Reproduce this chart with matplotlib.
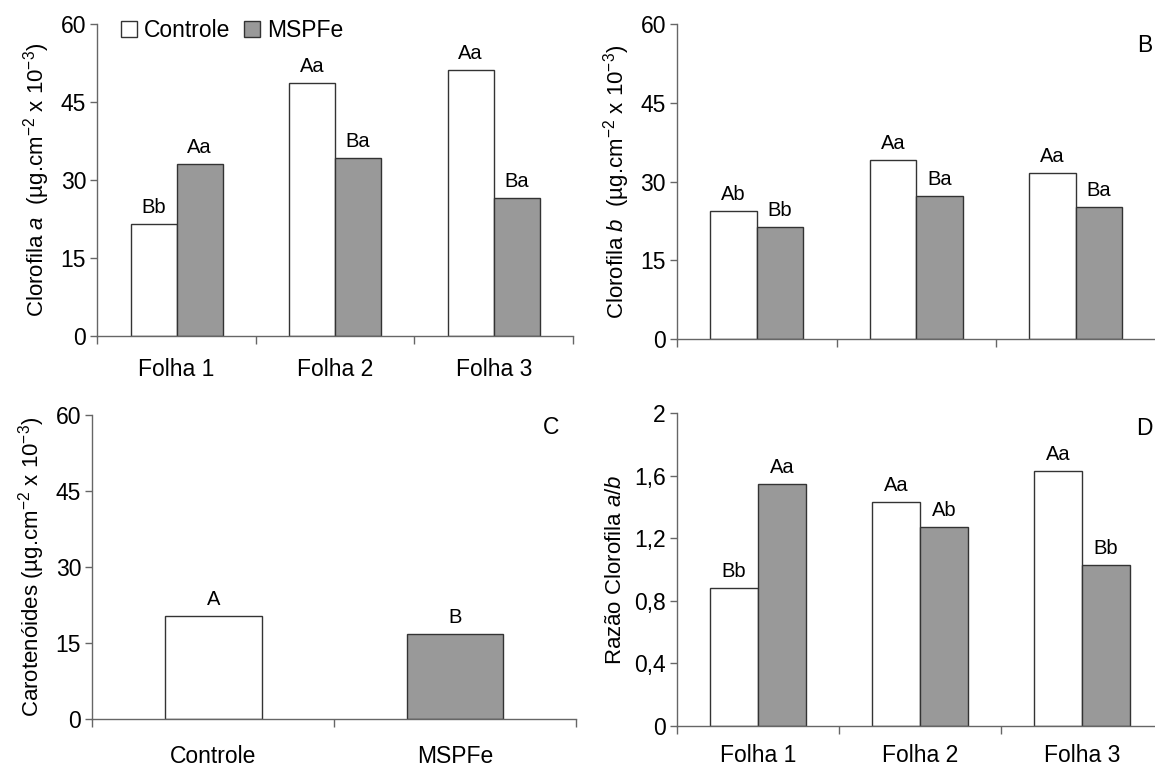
import numpy as np
import matplotlib
matplotlib.use('Agg')
import matplotlib.pyplot as plt
from matplotlib.patches import Patch

plt.rcParams['font.family'] = ['Liberation Sans', 'DejaVu Sans']
plt.rcParams['mathtext.fontset'] = 'custom'
plt.rcParams['mathtext.rm'] = 'Liberation Sans'
plt.rcParams['mathtext.it'] = 'Liberation Sans:italic'

FOLHAS = ['Folha 1', 'Folha 2', 'Folha 3']
TRATAMENTOS = ['Controle', 'MSPFe']

chl_a_controle = [21.5, 48.6, 51.1]
chl_a_mspfe = [33.1, 34.2, 26.5]
chl_a_letras_controle = ['Bb', 'Aa', 'Aa']
chl_a_letras_mspfe = ['Aa', 'Ba', 'Ba']

chl_b_controle = [24.5, 34.1, 31.6]
chl_b_mspfe = [21.4, 27.3, 25.1]
chl_b_letras_controle = ['Ab', 'Aa', 'Aa']
chl_b_letras_mspfe = ['Bb', 'Ba', 'Ba']

carot = [20.4, 16.7]
carot_letras = ['A', 'B']

razao_controle = [0.88, 1.43, 1.63]
razao_mspfe = [1.55, 1.27, 1.03]
razao_letras_controle = ['Bb', 'Aa', 'Aa']
razao_letras_mspfe = ['Aa', 'Ab', 'Bb']

Y_TICKS_CHL = [0, 15, 30, 45, 60]
Y_TICKS_RAZAO = [0, 0.4, 0.8, 1.2, 1.6, 2]
Y_TICKLABELS_RAZAO = ['0', '0,4', '0,8', '1,2', '1,6', '2']

W, H = 1155, 769
WHITE = 'white'
GRAY = '#999999'
EDGE = '#333333'
SPINE = '#666666'
FS_TICK = 16.5
FS_LABEL = 16
FS_BAR = 14.5


def px_axes(fig, left, right, top, bottom):
    return fig.add_axes([left / W, 1 - bottom / H, (right - left) / W, (bottom - top) / H])


def style_axes(ax, n, labels, label_pad):
    for s in ['top', 'right']:
        ax.spines[s].set_visible(False)
    for s in ['left', 'bottom']:
        ax.spines[s].set_color(SPINE)
        ax.spines[s].set_linewidth(1.0)
    ax.set_xlim(-0.5, n - 0.5)
    ax.set_xticks(np.arange(n + 1) - 0.5)
    ax.set_xticklabels([])
    ax.set_xticks(np.arange(n), minor=True)
    if labels is not None:
        ax.set_xticklabels(labels, minor=True, fontsize=FS_TICK)
    ax.tick_params(axis='x', which='major', direction='out', length=6, width=1, color=SPINE)
    ax.tick_params(axis='x', which='minor', length=0, pad=label_pad)
    ax.tick_params(axis='y', direction='out', length=5, width=1, color=SPINE,
                   labelsize=FS_TICK, pad=3)


def grouped(ax, controle, mspfe, lc, lm, width=0.29):
    x = np.arange(len(controle))
    b1 = ax.bar(x - width / 2, controle, width, color=WHITE, edgecolor=EDGE, linewidth=1)
    b2 = ax.bar(x + width / 2, mspfe, width, color=GRAY, edgecolor=EDGE, linewidth=1)
    ax.bar_label(b1, labels=lc, padding=5, fontsize=FS_BAR)
    ax.bar_label(b2, labels=lm, padding=5, fontsize=FS_BAR)


fig = plt.figure(figsize=(W / 100, H / 100), dpi=100)

# A
axA = px_axes(fig, 97.3, 573, 24, 335.7)
grouped(axA, chl_a_controle, chl_a_mspfe, chl_a_letras_controle, chl_a_letras_mspfe)
axA.set_ylim(0, 60)
axA.set_yticks(Y_TICKS_CHL)
style_axes(axA, 3, FOLHAS, 16)
axA.set_ylabel(r'Clorofila $\it{a}$  (µg.cm$^{-2}$ x 10$^{-3}$)', fontsize=FS_LABEL, labelpad=6)
handles = [Patch(facecolor=WHITE, edgecolor=EDGE, label=TRATAMENTOS[0]),
           Patch(facecolor=GRAY, edgecolor=EDGE, label=TRATAMENTOS[1])]
axA.legend(handles=handles, ncol=2, loc='upper left', bbox_to_anchor=(0.03, 1.045),
           frameon=False, fontsize=FS_TICK, handlelength=0.7, handleheight=0.7,
           handletextpad=0.3, columnspacing=0.6, borderaxespad=0)

# B
axB = px_axes(fig, 677, 1155.5, 24, 339.3)
grouped(axB, chl_b_controle, chl_b_mspfe, chl_b_letras_controle, chl_b_letras_mspfe)
axB.set_ylim(0, 60)
axB.set_yticks(Y_TICKS_CHL)
style_axes(axB, 3, None, 16)
axB.set_ylabel(r'Clorofila $\it{b}$  (µg.cm$^{-2}$ x 10$^{-3}$)', fontsize=FS_LABEL, labelpad=6)
fig.text(1152 / W, 1 - 45 / H, 'B', fontsize=FS_TICK, ha='right', va='center')

# C
axC = px_axes(fig, 92.3, 576, 415, 719)
x = np.arange(len(carot))
bc = axC.bar(x, carot, 0.4, color=[WHITE, GRAY], edgecolor=EDGE, linewidth=1)
axC.bar_label(bc, labels=carot_letras, padding=5, fontsize=FS_BAR)
axC.set_ylim(0, 60)
axC.set_yticks(Y_TICKS_CHL)
style_axes(axC, 2, TRATAMENTOS, 19)
axC.set_ylabel(r'Carotenóides (µg.cm$^{-2}$ x 10$^{-3}$)', fontsize=FS_LABEL, labelpad=6)
fig.text(559 / W, 1 - 427 / H, 'C', fontsize=FS_TICK, ha='right', va='center')

# D
axD = px_axes(fig, 677, 1163, 413.3, 726)
grouped(axD, razao_controle, razao_mspfe, razao_letras_controle, razao_letras_mspfe, width=0.294)
axD.set_ylim(0, 2)
axD.set_yticks(Y_TICKS_RAZAO)
axD.set_yticklabels(Y_TICKLABELS_RAZAO)
style_axes(axD, 3, FOLHAS, 13)
axD.set_ylabel(r'Razão Clorofila $\it{a/b}$', fontsize=FS_LABEL, labelpad=6)
fig.text(1153 / W, 1 - 429 / H, 'D', fontsize=FS_TICK, ha='right', va='center')

fig.savefig('out.png', dpi=100)
